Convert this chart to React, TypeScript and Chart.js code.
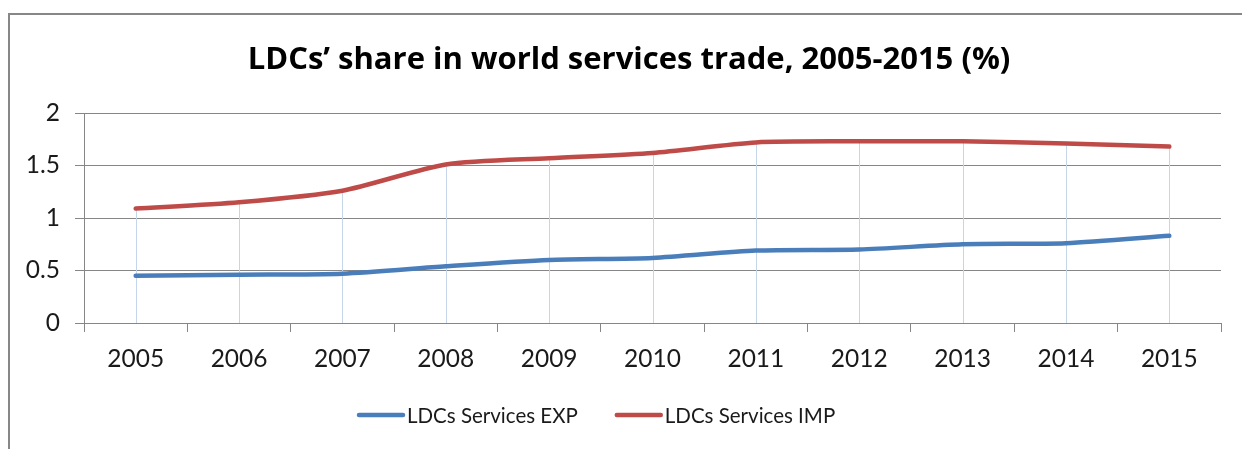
import React, { useEffect, useRef } from "react";
import { Chart, registerables } from "chart.js";

Chart.register(...registerables);

const TITLE = "LDCs’ share in world services trade, 2005-2015 (%)";
const YEARS = ["2005", "2006", "2007", "2008", "2009", "2010", "2011", "2012", "2013", "2014", "2015"];
const EXP_LABEL = "LDCs Services EXP";
const IMP_LABEL = "LDCs Services IMP";
const EXP_VALUES = [0.45, 0.46, 0.47, 0.54, 0.60, 0.62, 0.69, 0.70, 0.75, 0.76, 0.83];
const IMP_VALUES = [1.09, 1.15, 1.26, 1.51, 1.57, 1.62, 1.72, 1.73, 1.73, 1.71, 1.68];
const Y_MIN = 0;
const Y_MAX = 2;
const Y_STEP = 0.5;

const BLUE = "#4A7EBB";
const RED = "#BE4B48";
const GRID = "#868686";
const DROP = "#C5D5EA";
const FONT = "Lato, 'Open Sans', sans-serif";
const TITLE_FONT = "'Open Sans', Lato, sans-serif";

const dropLines = {
  id: "dropLines",
  beforeDatasetsDraw(chart: any) {
    const { ctx, scales } = chart;
    const xs = scales.x;
    const ys = scales.y;
    const n = chart.data.labels.length;
    ctx.save();
    ctx.strokeStyle = DROP;
    ctx.lineWidth = 1;
    for (let i = 0; i < n; i++) {
      let mx = -Infinity;
      chart.data.datasets.forEach((d: any) => {
        if (d.data[i] > mx) mx = d.data[i];
      });
      const x = Math.round(xs.getPixelForValue(i)) + 0.5;
      ctx.beginPath();
      ctx.moveTo(x, ys.getPixelForValue(mx));
      ctx.lineTo(x, ys.getPixelForValue(0));
      ctx.stroke();
    }
    ctx.restore();
  },
};

const titleAndLegend = {
  id: "titleAndLegend",
  afterDraw(chart: any) {
    const { ctx } = chart;
    ctx.save();
    // title
    ctx.font = `bold 31px ${TITLE_FONT}`;
    ctx.fillStyle = "#000";
    ctx.textAlign = "center";
    ctx.textBaseline = "middle";
    ctx.fillText(TITLE, 629, 60);

    // legend
    const y = 415;
    let x = 357;
    ctx.font = `20.5px ${FONT}`;
    ctx.textBaseline = "middle";
    ctx.textAlign = "left";
    chart.data.datasets.forEach((d: any) => {
      ctx.strokeStyle = d.borderColor;
      ctx.lineWidth = 4.5;
      ctx.lineCap = "round";
      ctx.beginPath();
      ctx.moveTo(x + 2, y);
      ctx.lineTo(x + 46, y);
      ctx.stroke();
      x += 50;
      ctx.fillStyle = "#1a1a1a";
      ctx.fillText(d.label, x, y + 1);
      x += ctx.measureText(d.label).width + 37;
    });
    ctx.restore();
  },
};

export default function App() {
  const ref = useRef<HTMLCanvasElement | null>(null);

  useEffect(() => {
    if (!ref.current) return;
    const chart = new Chart(ref.current, {
      type: "line",
      data: {
        labels: YEARS,
        datasets: [
          {
            label: EXP_LABEL,
            data: EXP_VALUES,
            borderColor: BLUE,
            backgroundColor: BLUE,
            borderWidth: 4.5,
            pointRadius: 0,
            tension: 0.25,
            borderCapStyle: "round",
          },
          {
            label: IMP_LABEL,
            data: IMP_VALUES,
            borderColor: RED,
            backgroundColor: RED,
            borderWidth: 4.5,
            pointRadius: 0,
            tension: 0.25,
            borderCapStyle: "round",
          },
        ],
      },
      options: {
        responsive: false,
        animation: false,
        layout: { padding: { left: 0, right: 21, top: 113, bottom: 66 } },
        plugins: {
          legend: { display: false },
          tooltip: { enabled: false },
          title: { display: false },
        },
        scales: {
          x: {
            offset: true,
            afterFit(scale: any) {
              scale.height = 60;
            },
            grid: {
              offset: true,
              drawOnChartArea: false,
              drawTicks: true,
              tickLength: 9,
              color: GRID,
            },
            border: { display: true, color: GRID, width: 1 },
            ticks: {
              color: "#1a1a1a",
              font: { family: FONT, size: 24.5 },
              padding: 12,
              maxRotation: 0,
            },
          },
          y: {
            min: Y_MIN,
            max: Y_MAX,
            afterFit(scale: any) {
              scale.width = 84;
            },
            grid: {
              color: GRID,
              tickLength: 9,
              drawTicks: true,
            },
            border: { display: true, color: GRID, width: 1 },
            ticks: {
              stepSize: Y_STEP,
              color: "#1a1a1a",
              font: { family: FONT, size: 24.5 },
              padding: 15,
              callback: (v: any) => String(Number(v)),
            },
          },
        },
      },
      plugins: [dropLines, titleAndLegend],
    });
    return () => chart.destroy();
  }, []);

  return (
    <div style={{ position: "absolute", left: 0, top: 0, width: 1242, height: 449, background: "#fff", overflow: "hidden" }}>
      <div
        style={{
          position: "absolute",
          left: 8,
          top: 13,
          width: 1240,
          height: 440,
          borderLeft: "2px solid #878787",
          borderTop: "2px solid #878787",
          boxSizing: "border-box",
        }}
      />
      <canvas ref={ref} width={1242} height={449} style={{ position: "absolute", left: 0, top: 0, display: "block" }} />
    </div>
  );
}
